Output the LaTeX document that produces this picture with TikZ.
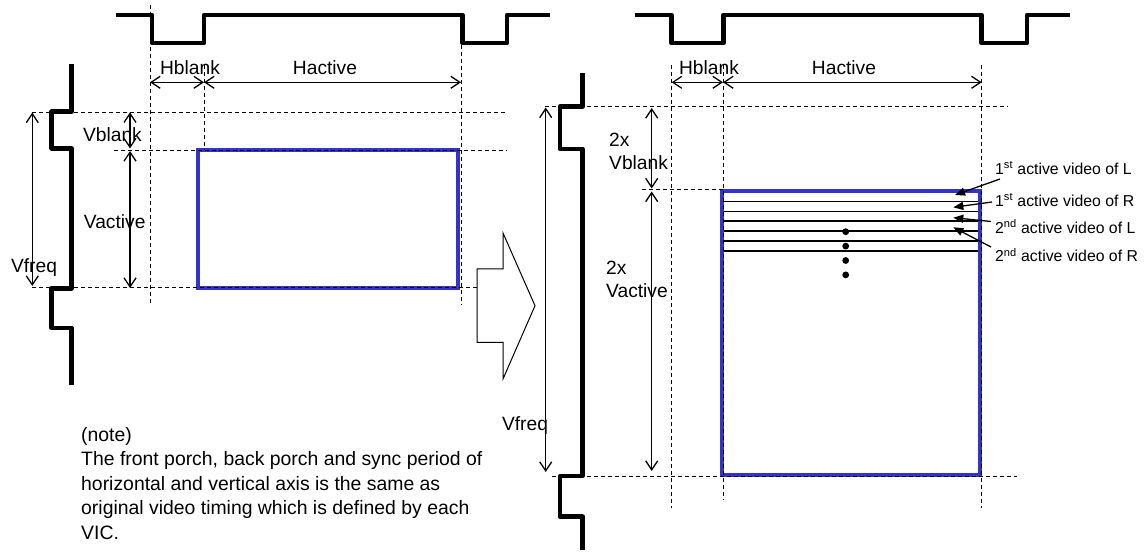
\documentclass[tikz,border=0pt]{standalone}
\usepackage{fontspec}
\setmainfont{Liberation Sans}
\usetikzlibrary{arrows.meta}
\definecolor{frameblue}{RGB}{51,51,204}

\begin{document}
\begin{tikzpicture}[
        x=1pt, y=-1pt,
        sync_line/.style={line width=4.5pt, line join=round},
        guide_line/.style={dash pattern=on 4pt off 3pt, line width=1pt},
        dim_arrow/.style={line width=1.3pt, {Straight Barb[length=9pt,width=12pt]}-{Straight Barb[length=9pt,width=12pt]}},
        active_frame/.style={draw=frameblue, line width=4pt},
        big_label/.style={font=\fontsize{19.2}{23}\selectfont, inner sep=0pt},
        line_label/.style={font=\fontsize{15.8}{18}\selectfont, inner sep=0pt, anchor=west},
        line_pointer/.style={line width=1.3pt, -{Triangle[length=10pt,width=8pt]}}
    ]
        \useasboundingbox (0,0) rectangle (1146,553);

        % Original timing (left)
        \draw[sync_line] (116,15) -- (151.8,15) -- (151.8,43) -- (204,43) -- (204,15) -- (462.5,15) -- (462.5,43) -- (507,43) -- (507,15) -- (550,15);
        \draw[sync_line] (71.7,64) -- (71.7,111.7) -- (51.7,111.7) -- (51.7,148.3) -- (71.7,148.3) -- (71.7,288.3) -- (51.7,288.3) -- (51.7,328) -- (71.7,328) -- (71.7,385);
        \draw[active_frame] (198,150.5) rectangle (458,288);
        \draw[guide_line] (150,5) -- (150,305);
        \draw[guide_line] (204,65) -- (204,150);
        \draw[guide_line] (461,45) -- (461,305);
        \draw[guide_line] (32,112.3) -- (507,112.3);
        \draw[guide_line] (114,150.7) -- (507,150.7);
        \draw[guide_line] (32,288) -- (478,288);

        \coordinate (hbL1) at (150,82.3);
        \coordinate (hbL2) at (204,82.3);
        \coordinate (haL2) at (461,82.3);
        \draw[dim_arrow] (hbL1) -- (hbL2);
        \draw[dim_arrow] (hbL2) -- (haL2);
        \coordinate (vbL1) at (130,112.3);
        \coordinate (vbL2) at (130,148.5);
        \coordinate (vaL1) at (130,151);
        \coordinate (vaL2) at (130,288);
        \draw[dim_arrow] (vbL1) -- (vbL2);
        \draw[dim_arrow] (vaL1) -- (vaL2);
        \coordinate (vfL1) at (32.3,112.5);
        \coordinate (vfL2) at (32.3,286);
        \draw[dim_arrow] (vfL1) -- (vfL2);

        \node[big_label] (hblankL) at (190,68) {Hblank};
        \node[big_label] (hactiveL) at (325,68) {Hactive};
        \node[big_label] (vblankL) at (112.5,135) {Vblank};
        \node[big_label] (vactiveL) at (114.7,221.7) {Vactive};
        \node[big_label] (vfreqL) at (34,268) {Vfreq};

        % Conversion arrow
        \draw[line width=1pt, fill=white] (477,269) -- (503,269) -- (503,233) -- (535,305.7) -- (503,379) -- (503,342.5) -- (477,342.5) -- cycle;

        % Note
        \node[big_label, anchor=west, align=left, font=\fontsize{19.4}{24.5}\selectfont] (note) at (81,483.5)
            {(note)\\The front porch, back porch and sync period of\\horizontal and vertical axis is the same as\\original video timing which is defined by each\\VIC.};

        % Frame packing timing (right)
        \draw[sync_line] (634.7,15) -- (671.4,15) -- (671.4,43) -- (723.3,43) -- (723.3,15) -- (981.5,15) -- (981.5,43) -- (1027,43) -- (1027,15) -- (1070,15);
        \draw[sync_line] (582.5,73.3) -- (582.5,106.7) -- (560,106.7) -- (560,149) -- (582.5,149) -- (582.5,476) -- (560,476) -- (560,516.7) -- (582.5,516.7) -- (582.5,550);
        \draw[active_frame] (721.7,191.5) rectangle (980,475);
        \foreach \k in {1,...,6}
            \draw[line width=1.5pt] (723.5,191.5+9.9*\k) -- (978,191.5+9.9*\k);
        \foreach \k in {0,...,3}
            \fill (845.7,231.7+14.4*\k) circle (3.4);
        \draw[guide_line] (671.7,65) -- (671.7,508);
        \draw[guide_line] (723,65) -- (723,500);
        \draw[guide_line] (981.7,65) -- (981.7,508);
        \draw[guide_line] (545,106.7) -- (1008,106.7);
        \draw[guide_line] (641.7,190) -- (723,190);
        \draw[guide_line] (552,476) -- (1017,476);

        \coordinate (hbR1) at (671.7,82.3);
        \coordinate (hbR2) at (723,82.3);
        \coordinate (haR2) at (981.7,82.3);
        \draw[dim_arrow] (hbR1) -- (hbR2);
        \draw[dim_arrow] (hbR2) -- (haR2);
        \coordinate (vbR1) at (651.7,108);
        \coordinate (vbR2) at (651.7,188.5);
        \coordinate (vaR1) at (651.7,191.5);
        \coordinate (vaR2) at (651.7,471);
        \draw[dim_arrow] (vbR1) -- (vbR2);
        \draw[dim_arrow] (vaR1) -- (vaR2);
        \coordinate (vfR1) at (545.7,107.5);
        \coordinate (vfR2) at (545.7,472);
        \draw[dim_arrow] (vfR1) -- (vfR2);

        \node[big_label] (hblankR) at (709,67.5) {Hblank};
        \node[big_label] (hactiveR) at (844,68) {Hactive};
        \node[big_label, anchor=west, align=left] (vblankR) at (609,151.5) {2x\\Vblank};
        \node[big_label, anchor=west, align=left] (vactiveR) at (606,279) {2x\\Vactive};
        \node[big_label] (vfreqR) at (525,426) {Vfreq};

        % Line labels
        \node[line_label] (lineL1) at (995,168) {1\textsuperscript{st} active video of L};
        \node[line_label] (lineR1) at (995,200) {1\textsuperscript{st} active video of R};
        \node[line_label] (lineL2) at (995,226.5) {2\textsuperscript{nd} active video of L};
        \node[line_label] (lineR2) at (995,255) {2\textsuperscript{nd} active video of R};
        \coordinate (tipL1) at (955,195);
        \coordinate (tipR1) at (953.3,207.3);
        \coordinate (tipL2) at (953.3,217.7);
        \coordinate (tipR2) at (953.3,227.3);
        \draw[line_pointer] ([xshift=5pt,yshift=-11pt]lineL1.west) -- (tipL1);
        \draw[line_pointer] ([xshift=-3pt,yshift=-2pt]lineR1.west) -- (tipR1);
        \draw[line_pointer] ([xshift=-4pt,yshift=5pt]lineL2.west) -- (tipL2);
        \draw[line_pointer] ([xshift=-4pt,yshift=8pt]lineR2.west) -- (tipR2);
\end{tikzpicture}
\end{document}
